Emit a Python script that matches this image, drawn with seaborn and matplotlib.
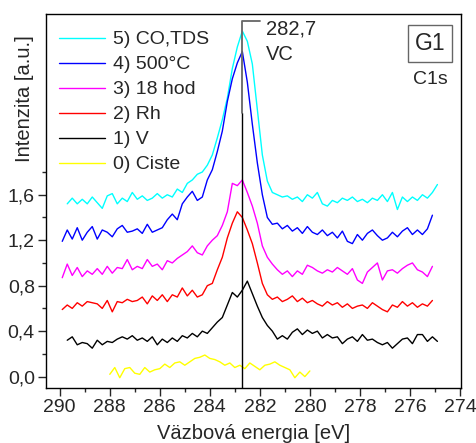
import numpy as np
import pandas as pd
import seaborn as sns
import matplotlib.pyplot as plt
from matplotlib.ticker import MultipleLocator, FuncFormatter

# series: start energy (eV), values every 0.2 eV going down in energy
STEP = 0.2

cyan_start = 289.7
cyan_vals = [1.52, 1.57, 1.52, 1.56, 1.52, 1.58, 1.53, 1.48, 1.59, 1.61,
             1.52, 1.57, 1.54, 1.62, 1.56, 1.59, 1.55, 1.57, 1.61, 1.57,
             1.60, 1.58, 1.65, 1.62, 1.70, 1.73, 1.78, 1.80, 1.86, 1.95,
             2.10, 2.26, 2.45, 2.71, 2.90, 3.04, 2.95, 2.75, 2.35, 1.95,
             1.72, 1.62, 1.60, 1.58, 1.59, 1.56, 1.58, 1.54, 1.60, 1.57,
             1.62, 1.52, 1.50, 1.55, 1.53, 1.57, 1.55, 1.58, 1.54, 1.56,
             1.53, 1.57, 1.55, 1.60, 1.54, 1.62, 1.47, 1.58, 1.54, 1.58,
             1.55, 1.60, 1.57, 1.62, 1.69]

blue_start = 289.9
blue_vals = [1.19, 1.29, 1.21, 1.31, 1.20, 1.27, 1.32, 1.21, 1.29, 1.27,
             1.23, 1.30, 1.33, 1.27, 1.28, 1.30, 1.26, 1.34, 1.27, 1.29,
             1.31, 1.38, 1.43, 1.38, 1.52, 1.58, 1.63, 1.55, 1.58, 1.73,
             1.82, 1.98, 2.16, 2.42, 2.62, 2.76, 2.86, 2.59, 2.22, 1.88,
             1.60, 1.40, 1.34, 1.35, 1.30, 1.33, 1.28, 1.31, 1.26, 1.32,
             1.27, 1.25, 1.29, 1.24, 1.27, 1.22, 1.28, 1.19, 1.17, 1.25,
             1.20, 1.26, 1.29, 1.24, 1.20, 1.22, 1.27, 1.23, 1.28, 1.31,
             1.25, 1.29, 1.25, 1.30, 1.42]

magenta_start = 289.9
magenta_vals = [0.87, 0.99, 0.89, 0.96, 0.88, 0.93, 0.90, 0.95, 0.90, 0.97,
                0.91, 0.96, 0.95, 1.03, 0.94, 0.97, 0.95, 1.03, 0.97, 0.99,
                0.94, 1.02, 1.00, 1.04, 1.07, 1.10, 1.15, 1.09, 1.07, 1.15,
                1.20, 1.24, 1.33, 1.45, 1.70, 1.68, 1.73, 1.62, 1.50, 1.35,
                1.15, 1.05, 0.99, 0.94, 0.90, 0.93, 0.88, 0.93, 0.90, 0.98,
                0.96, 0.93, 0.91, 0.94, 0.92, 0.96, 0.93, 0.90, 0.95, 0.85,
                0.82, 0.92, 0.96, 1.00, 0.85, 0.93, 0.94, 0.91, 0.95, 0.98,
                1.00, 0.94, 0.92, 0.88, 0.97]

red_start = 289.9
red_vals = [0.59, 0.63, 0.60, 0.65, 0.62, 0.66, 0.65, 0.64, 0.60, 0.67,
            0.57, 0.66, 0.65, 0.68, 0.66, 0.67, 0.70, 0.64, 0.71, 0.67,
            0.72, 0.66, 0.72, 0.70, 0.78, 0.71, 0.76, 0.70, 0.72, 0.80,
            0.82, 0.94, 1.05, 1.22, 1.35, 1.45, 1.40, 1.29, 1.17, 1.00,
            0.82, 0.72, 0.68, 0.70, 0.66, 0.68, 0.71, 0.66, 0.69, 0.65,
            0.67, 0.64, 0.62, 0.66, 0.63, 0.65, 0.61, 0.64, 0.60, 0.62,
            0.63, 0.60, 0.65, 0.62, 0.59, 0.57, 0.63, 0.61, 0.66, 0.62,
            0.65, 0.61, 0.64, 0.62, 0.67]

black_start = 289.7
black_vals = [0.32, 0.35, 0.28, 0.30, 0.29, 0.25, 0.32, 0.28, 0.31, 0.30,
              0.33, 0.35, 0.33, 0.36, 0.32, 0.34, 0.31, 0.35, 0.28, 0.33,
              0.30, 0.34, 0.31, 0.36, 0.34, 0.38, 0.35, 0.40, 0.38, 0.43,
              0.48, 0.52, 0.63, 0.74, 0.70, 0.76, 0.84, 0.73, 0.62, 0.52,
              0.45, 0.40, 0.33, 0.36, 0.33, 0.39, 0.42, 0.37, 0.41, 0.38,
              0.40, 0.34, 0.37, 0.34, 0.35, 0.29, 0.33, 0.35, 0.31, 0.37,
              0.32, 0.33, 0.30, 0.28, 0.30, 0.25, 0.29, 0.33, 0.34, 0.29,
              0.37, 0.37, 0.31, 0.35, 0.31]

yellow_start = 288.0
yellow_vals = [0.02, 0.08, -0.01, 0.07, 0.08, 0.03, 0.02, 0.08, 0.04, 0.06,
               0.07, 0.11, 0.08, 0.12, 0.13, 0.10, 0.13, 0.16, 0.17, 0.19,
               0.16, 0.15, 0.13, 0.10, 0.12, 0.08, 0.10, 0.07, 0.12, 0.09,
               0.06, 0.10, 0.11, 0.13, 0.10, 0.08, 0.06, -0.01, 0.04, 0.00,
               0.05]

labels = ["5) CO,TDS", "4) 500°C", "3) 18 hod", "2) Rh", "1) V", "0) Ciste"]
colors = ["#00ffff", "#0000ff", "#ff00ff", "#ff0000", "#000000", "#ffff00"]
series = [(cyan_start, cyan_vals), (blue_start, blue_vals),
          (magenta_start, magenta_vals), (red_start, red_vals),
          (black_start, black_vals), (yellow_start, yellow_vals)]

peak_pos = 282.7

rows = []
for lab, (start, vals) in zip(labels, series):
    for i, v in enumerate(vals):
        rows.append([start - STEP * i, v, lab])
df = pd.DataFrame(rows, columns=["energy", "intensity", "sample"])

sns.set_style("ticks")
plt.rcParams['font.family'] = ['Liberation Sans', 'DejaVu Sans']

fig = plt.figure(figsize=(4.77, 4.43), dpi=100)
ax = fig.add_axes([0.0964, 0.1242, 0.8694, 0.8442])

sns.lineplot(data=df, x="energy", y="intensity", hue="sample", hue_order=labels,
             palette=dict(zip(labels, colors)), estimator=None, sort=False,
             linewidth=1.0, ax=ax)

# marker line for the VC peak
ax.plot([peak_pos, peak_pos], [-0.1, 2.32], color="black", lw=1.0)
ax.plot([peak_pos, peak_pos, 282.0], [2.32, 3.13, 3.13], color="#666666", lw=1.3)
ax.text(281.77, 3.06, "282,7", fontsize=14.5, va="center", ha="left")
ax.text(281.77, 2.83, "VC", fontsize=14.5, va="center", ha="left")

ax.text(0.926, 0.922, "G1", transform=ax.transAxes, fontsize=16.5, ha="center", va="center",
        bbox=dict(boxstyle="square,pad=0.3", fc="white", ec="#666666", lw=1.0))
ax.text(0.926, 0.824, "C1s", transform=ax.transAxes, fontsize=14, ha="center", va="center")

ax.set_xlim(290.55, 273.97)
ax.set_ylim(-0.1, 3.19)
ax.xaxis.set_major_locator(MultipleLocator(2))
ax.xaxis.set_minor_locator(MultipleLocator(1))
ax.set_yticks([0.0, 0.4, 0.8, 1.2, 1.6])
ax.set_yticks([0.2, 0.6, 1.0, 1.4, 1.8], minor=True)
ax.yaxis.set_major_formatter(FuncFormatter(lambda v, p: f"{v:.1f}".replace(".", ",")))
ax.tick_params(which="major", direction="out", length=6, width=1.0, labelsize=14, pad=2)
ax.tick_params(which="minor", direction="out", length=3, width=1.0)
for s in ax.spines.values():
    s.set_linewidth(1.0)
    s.set_color("black")

ax.set_xlabel("Väzbová energia [eV]", fontsize=14.5, labelpad=6)
ax.set_ylabel("Intenzita [a.u.]", fontsize=14.5)
ax.yaxis.set_label_coords(-0.03, 0.775)

leg = ax.get_legend()
handles = leg.legend_handles
texts = [t.get_text() for t in leg.get_texts()]
ax.legend(handles, texts, loc="upper left", bbox_to_anchor=(0.0, 0.989), frameon=False,
          fontsize=14, handlelength=2.4, handletextpad=0.4, labelspacing=0.38,
          borderaxespad=0.3, borderpad=0.35)

fig.savefig("out.png", dpi=100)
